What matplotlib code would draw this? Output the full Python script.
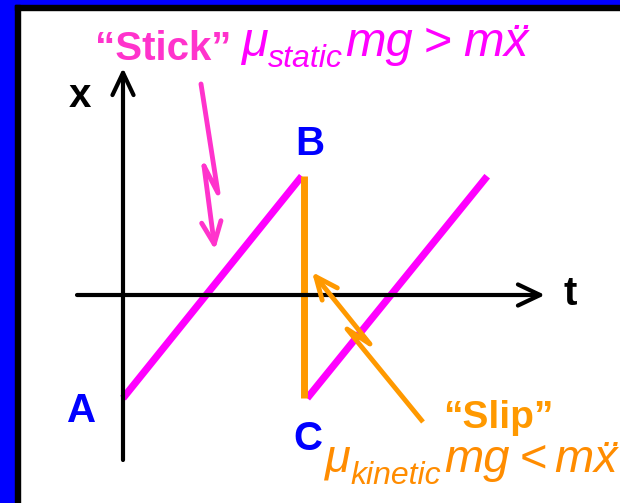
import matplotlib
matplotlib.use('Agg')
import matplotlib.pyplot as plt
from matplotlib.patches import Rectangle

plt.rcParams['font.family'] = ['Liberation Sans', 'DejaVu Sans']

# stick-slip sawtooth, in plot units (t across, x up)
stick1_t = [0.0, 2.98]
stick1_x = [-1.72, 1.98]
slip_t = [3.02, 3.02]
slip_x = [1.98, -1.72]
stick2_t = [3.07, 6.07]
stick2_x = [-1.72, 1.98]
point_labels = ['A', 'B', 'C']

# canvas in pixels, origin of the graph at (123, 295), 60 px per unit
W, H = 620, 503
OX, OY, U = 123, 295, 60.0


def P(px, py):
    return ((px - OX) / U, (OY - py) / U)


# annotation arrow paths (pixels), lightning-bolt style
stick_arrow = [(201, 84), (218, 193), (204, 166), (215, 250)]
slip_arrow = [(423, 422), (347, 329), (370, 344), (312, 272)]

MAG = '#FF00FF'
PINK = '#FF33CC'
ORANGE = '#FF9900'
ORANGE2 = '#FF8C00'
BLUE = '#0000FF'

fig = plt.figure(figsize=(W / 100, H / 100), dpi=100)
fig.patch.set_facecolor('white')
# frame at top / left
fig.patches.append(Rectangle((0, 1 - 5 / H), 1, 5 / H, transform=fig.transFigure, color=BLUE, zorder=0))
fig.patches.append(Rectangle((0, 0), 15 / W, 1, transform=fig.transFigure, color=BLUE, zorder=0))
fig.patches.append(Rectangle((15 / W, 1 - 10 / H), 1, 5 / H, transform=fig.transFigure, color='black', zorder=0))
fig.patches.append(Rectangle((15 / W, 0), 5 / W, 1 - 5 / H, transform=fig.transFigure, color='black', zorder=0))

ax = fig.add_axes([0, 0, 1, 1])
ax.set_xlim((0 - OX) / U, (W - OX) / U)
ax.set_ylim((OY - H) / U, OY / U)
ax.axis('off')
renderer = fig.canvas.get_renderer()

# axes with arrows
head = dict(arrowstyle='->,head_length=0.8,head_width=0.38', lw=3, color='black',
            shrinkA=0, shrinkB=0, mutation_scale=20)
ax.annotate('', xy=P(123, 68), xytext=P(123, 460), arrowprops=head)
ax.annotate('', xy=P(545, 295), xytext=P(77, 295), arrowprops=head)
ax.text(*P(80, 107), 'x', fontsize=29, fontweight='bold', ha='center', va='baseline')
ax.text(*P(564, 305), 't', fontsize=29, fontweight='bold', ha='left', va='baseline')

# sawtooth
ax.plot(stick1_t, stick1_x, color=MAG, lw=5.2, solid_capstyle='butt')
ax.plot(stick2_t, stick2_x, color=MAG, lw=5.2, solid_capstyle='butt')
ax.plot(slip_t, slip_x, color=ORANGE, lw=5.0, solid_capstyle='butt')

for lab, (px, py) in zip(point_labels, [(82, 422), (310, 155), (308, 450)]):
    ax.text(*P(px, py), lab, fontsize=29, fontweight='bold', color=BLUE, ha='center', va='baseline')


def formula(x0, base, size, pieces, target, color, dots_drop):
    # pieces: (text, rel size, drop in em, italic, gap after in em)
    # lay the pieces out one after the other, then scale the whole to target width
    px_per_pt = 100 / 72.0

    def layout(sz):
        x = x0
        out = []
        for s, rel, drop, it, gap in pieces:
            t = ax.text(0, 0, s, fontsize=sz * rel, style='italic' if it else 'normal')
            w = t.get_window_extent(renderer).width
            t.remove()
            out.append((x, w, s, sz * rel, drop * sz * px_per_pt, it))
            x += w + gap * sz * px_per_pt
        return out, x - x0

    _, total = layout(size)
    size = size * target / total
    out, _ = layout(size)
    for x, w, s, sz, drop, it in out:
        ax.text(*P(x, base + drop), s, fontsize=sz, color=color, ha='left', va='baseline',
                style='italic' if it else 'normal')
    # double dot over the last x
    x, w, s, sz, drop, it = out[-1]
    em = sz * px_per_pt
    ax.text(*P(x + w / 2 + 0.07 * em, base + dots_drop * em), '\u00a8', fontsize=sz, color=color,
            ha='center', va='baseline', style='italic')


# "Stick" annotation
ax.text(*P(95, 60), '\u201cStick\u201d', fontsize=29, fontweight='bold', color=PINK, ha='left', va='baseline')
formula(241, 56, 36, [('\u03bc', 1.0, 0.0, True, 0.0),
                      ('static', 0.66, 0.22, True, 0.05),
                      ('mg', 1.0, 0.0, True, 0.22),
                      ('>', 1.0, 0.0, False, 0.22),
                      ('m', 1.0, 0.0, True, 0.0),
                      ('x', 1.0, 0.0, True, 0.0)], 287, MAG, 0.05)
pts = [P(*p) for p in stick_arrow]
ax.plot([p[0] for p in pts[:-1]], [p[1] for p in pts[:-1]], color=PINK, lw=3.5,
        solid_joinstyle='round', solid_capstyle='round')
ax.annotate('', xy=pts[-1], xytext=pts[-2],
            arrowprops=dict(arrowstyle='->,head_length=0.8,head_width=0.35', lw=3.5, color=PINK,
                            shrinkA=0, shrinkB=0, mutation_scale=20))

# "Slip" annotation
ax.text(*P(443, 428), '\u201cSlip\u201d', fontsize=28, fontweight='bold', color=ORANGE, ha='left', va='baseline')
formula(325, 472, 31, [('\u03bc', 1.0, 0.0, True, 0.0),
                       ('kinetic', 0.68, 0.25, True, 0.05),
                       ('mg', 1.0, 0.0, True, 0.22),
                       ('<', 1.0, 0.0, False, 0.15),
                       ('m', 1.0, 0.0, True, 0.0),
                       ('x', 1.0, 0.0, True, 0.0)], 292, ORANGE2, 0.05)
pts = [P(*p) for p in slip_arrow]
ax.plot([p[0] for p in pts[:-1]], [p[1] for p in pts[:-1]], color=ORANGE, lw=3.5,
        solid_joinstyle='round', solid_capstyle='butt')
ax.annotate('', xy=pts[-1], xytext=pts[-2],
            arrowprops=dict(arrowstyle='->,head_length=0.8,head_width=0.35', lw=3.5, color=ORANGE,
                            shrinkA=0, shrinkB=0, mutation_scale=20))

fig.savefig('out.png', dpi=100)
